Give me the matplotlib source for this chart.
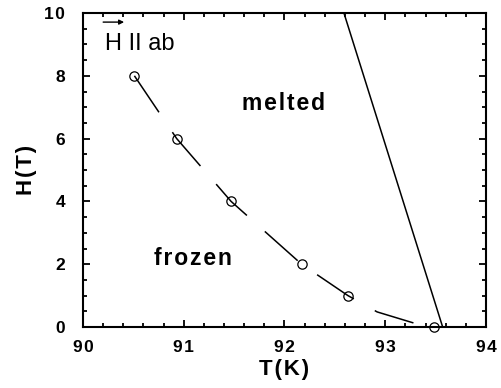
import numpy as np
import matplotlib
matplotlib.use("Agg")
import matplotlib.pyplot as plt
from matplotlib.ticker import MultipleLocator, FuncFormatter

plt.rcParams['font.family'] = ['Liberation Sans', 'DejaVu Sans']

# measured points (open circles)
pts_T = [90.51, 90.93, 91.47, 92.17, 92.63, 93.48]
pts_H = [8.0, 6.0, 4.0, 2.0, 1.0, 0.0]

# dashed guide through the frozen-state points
curve_T = [90.51, 90.93, 91.47, 92.17, 92.63, 92.92, 93.28]
curve_H = [8.0, 6.0, 4.0, 2.0, 1.0, 0.48, 0.13]

# solid melting line
melt_T = [92.59, 93.57]
melt_H = [10.0, 0.0]

SP = '\u200a'


def spaced(s):
    return SP.join(s)


fig = plt.figure(figsize=(5.01, 3.88), dpi=100)
ax = fig.add_axes([0.1657, 0.1572, 0.8043, 0.8093])

ax.plot(curve_T, curve_H, color='black', lw=1.1, dashes=(28.8, 15.7))
ax.plot(melt_T, melt_H, color='black', lw=1.1)
ax.plot(pts_T, pts_H, 'o', mfc='none', mec='black', ms=6.7, mew=0.9, clip_on=False)

ax.set_xlim(90, 94)
ax.set_ylim(0, 10)
ax.xaxis.set_major_locator(MultipleLocator(1))
ax.xaxis.set_minor_locator(MultipleLocator(0.2))
ax.yaxis.set_major_locator(MultipleLocator(2))
ax.yaxis.set_minor_locator(MultipleLocator(0.5))
fmt = FuncFormatter(lambda v, p: spaced(str(int(round(v)))))
ax.xaxis.set_major_formatter(fmt)
ax.yaxis.set_major_formatter(fmt)

ax.tick_params(which='both', direction='in', top=True, right=True, width=1.3)
ax.tick_params(which='major', length=5)
ax.tick_params(which='minor', length=3)
ax.tick_params(axis='x', which='major', pad=9, labelsize=12.5)
ax.tick_params(axis='y', which='major', pad=13, labelsize=12.5)
for lab in ax.get_xticklabels() + ax.get_yticklabels():
    lab.set_fontweight('bold')
for s in ax.spines.values():
    s.set_linewidth(1.5)

ax.set_xlabel(spaced('T(K)'), fontsize=16, fontweight='bold', labelpad=3)
ax.set_ylabel(spaced('H(T)'), fontsize=16, fontweight='bold', labelpad=5)

ax.text(91.99, 7.13, spaced('melted'), fontsize=16.5, fontweight='bold',
        ha='center', va='center')
ax.text(91.09, 2.17, spaced('frozen'), fontsize=16.5, fontweight='bold',
        ha='center', va='center')

ax.text(0.055, 0.882, 'H II ab', transform=ax.transAxes, fontsize=17,
        ha='left', va='baseline')
ax.annotate('', xy=(0.102, 0.971), xytext=(0.05, 0.971), xycoords='axes fraction',
            arrowprops=dict(arrowstyle='-|>', color='black', lw=1.0,
                            mutation_scale=7, shrinkA=0, shrinkB=0))

fig.savefig('out.png', dpi=100)
